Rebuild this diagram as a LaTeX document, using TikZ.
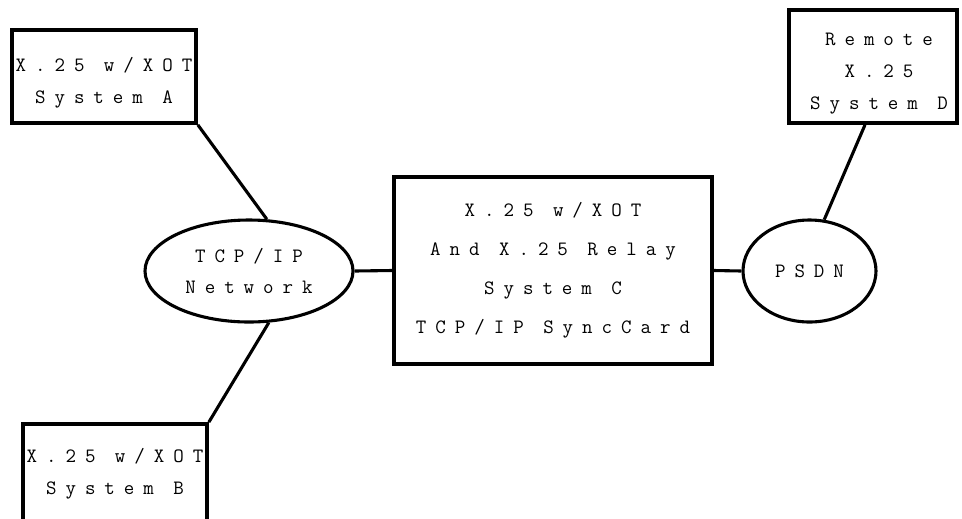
\documentclass[tikz,border=0pt]{standalone}
\usepackage{fontspec}
\newfontfamily\xotfont{Latin Modern Mono}[LetterSpace=44]
\usetikzlibrary{shapes.geometric}

% taller first line, pushes the label a bit down in its box
\newcommand{\xotlift}{\rule{0pt}{19pt}}

\tikzset{
    sysbox/.style={draw, line width=2.6pt, rectangle, inner sep=0pt, align=center,
        font=\xotfont\fontsize{14.5}{22.7}\selectfont},
    netoval/.style={draw, line width=2.2pt, ellipse, inner sep=0pt, align=center,
        font=\xotfont\fontsize{14.5}{22.7}\selectfont},
    link/.style={line width=2.2pt}
}

\begin{document}
\begin{tikzpicture}
    % Frame of the page
    \useasboundingbox (0,0) rectangle (24.05,-12.95);
    \clip (0,0) rectangle (24.05,-12.95);

    % Systems
    \node[sysbox, minimum width=4.6cm, minimum height=2.325cm] (sysA) at (2.6,-1.9125) {\xotlift X.25 w/XOT\\System A};
    \node[sysbox, minimum width=4.6cm, minimum height=2.5cm] (sysB) at (2.875,-11.85) {X.25 w/XOT\\System B};
    \node[sysbox, minimum width=7.95cm, minimum height=4.675cm,
        font=\xotfont\fontsize{14.5}{27.7}\selectfont] (sysC) at (13.825,-6.7625)
        {X.25 w/XOT\\And X.25 Relay\\System C\\TCP/IP SyncCard};
    \node[sysbox, minimum width=4.2cm, minimum height=2.825cm] (sysD) at (21.825,-1.6625) {\xotlift\hspace*{0.3cm}Remote\\\hspace*{0.3cm}X.25\\\hspace*{0.3cm}System D};

    % Networks
    \node[netoval, minimum width=5.2cm, minimum height=2.55cm] (tcpip) at (6.225,-6.775) {TCP/IP\\Network};
    \node[netoval, minimum width=3.325cm, minimum height=2.55cm] (psdn) at (20.2375,-6.775) {PSDN};

    % Links
    \draw[link] (sysA.south east) -- (tcpip.71);
    \draw[link] (tcpip.-69) -- (sysB.north east);
    \draw[link] (tcpip.east) -- (sysC.west);
    \draw[link] (sysC.east) -- (psdn.west);
    \draw[link] ([xshift=-0.2cm]sysD.south) -- (psdn.74);

\end{tikzpicture}
\end{document}
